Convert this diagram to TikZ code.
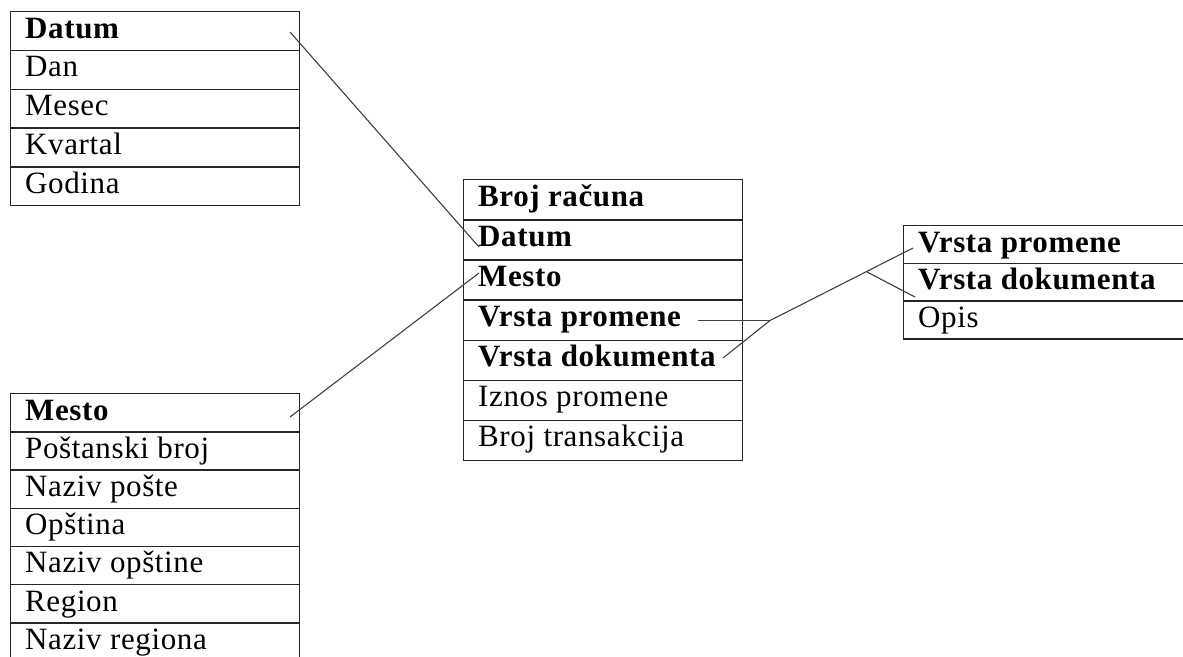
\documentclass[tikz,border=0pt]{standalone}
\usepackage{fontspec}
\setmainfont{Liberation Serif}[LetterSpace=2]
\begin{document}
\begin{tikzpicture}[x=1pt,y=-1pt,
  cell/.style={draw=black!85, line width=1.4pt, inner sep=0pt, anchor=north west},
  txt/.style={anchor=base west, inner sep=0pt, font=\fontsize{31}{34}\selectfont},
  key/.style={txt, font=\fontsize{31}{34}\selectfont\bfseries},
  link/.style={draw=black!75, line width=1.1pt}
]
\useasboundingbox (0,0) rectangle (1183,656);
\clip (0,0) rectangle (1183,656);
\fill[white] (0,0) rectangle (1183,656);

% table: prefix, top-left corner, width, row height, list of style/text
\newcommand{\dimtable}[5]{%
  \foreach \st/\lbl [count=\i from 0] in {#5} {%
    \node[cell, minimum width=#3, minimum height=#4] (#1\i) at (#2) [yshift=-\i*#4] {};
    \node[\st] (#1t\i) at ([xshift=15pt, yshift=-27pt]#1\i.north west) {\lbl};
  }%
}

% Datum dimension
\dimtable{da}{10,11}{289pt}{38.8pt}{key/Datum, txt/Dan, txt/Mesec, txt/Kvartal, txt/Godina}

% fact table
\dimtable{f}{463,179}{279pt}{40.14pt}{key/Broj računa, key/Datum, key/Mesto, key/Vrsta promene, key/Vrsta dokumenta, txt/Iznos promene, txt/Broj transakcija}

% Mesto dimension
\dimtable{m}{10,393}{289pt}{38.2pt}{key/Mesto, txt/Poštanski broj, txt/Naziv pošte, txt/Opština, txt/Naziv opštine, txt/Region, txt/Naziv regiona}

% change type dimension
\dimtable{v}{903,225}{300pt}{37.7pt}{key/Vrsta promene, key/Vrsta dokumenta, txt/Opis}

% connector end points
\coordinate (daA) at (290,32);
\coordinate (fDa) at (479,247);
\coordinate (mA)  at (290,417);
\coordinate (fM)  at (479,273);
\coordinate (fVp) at (698,320.5);
\coordinate (fVd) at (723,358);
\coordinate (j)   at (770,320.5);
\coordinate (vVp) at (913,248);
\coordinate (br)  at (867,272);
\coordinate (vVd) at (915,297);

\draw[link] (daA) -- (fDa);
\draw[link] (mA) -- (fM);
\draw[link] (fVp) -- (j);
\draw[link] (fVd) -- (j) -- (vVp);
\draw[link] (br) -- (vVd);
\end{tikzpicture}
\end{document}
